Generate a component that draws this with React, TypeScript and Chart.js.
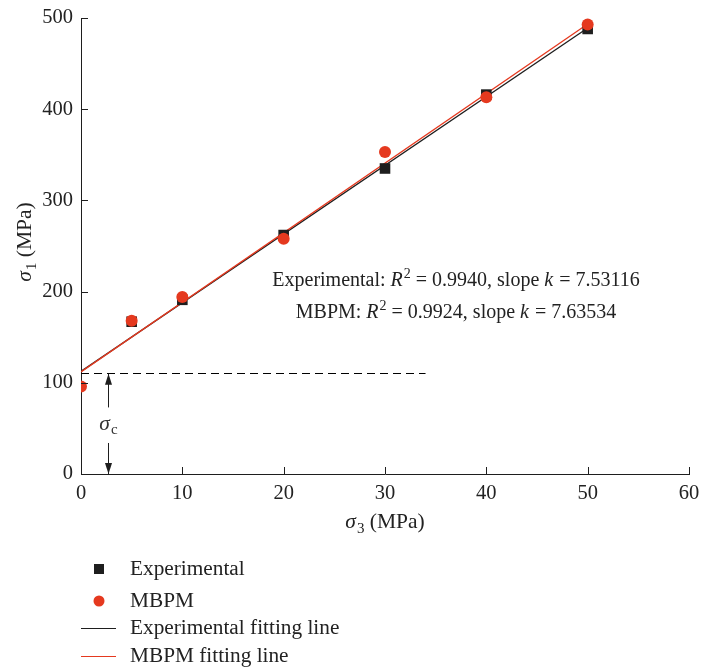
import React, { useEffect, useRef } from "react";
import { Chart, registerables } from "chart.js";
Chart.register(...registerables);

// ---- data ----
const sigma3 = [0, 5, 10, 20, 30, 40, 50];
const experimentalX = [5, 10, 20, 30, 40, 50];
const experimental = [167, 191, 262, 335, 416, 488];
const mbpm = [96, 168, 194, 258, 353, 413, 493];
const expFitX = [0, 50];
const expFitY = [112.5, 489];
const mbpmFitX = [0, 50];
const mbpmFitY = [112, 493.5];
const sigmaCValue = 110.2;
const sigmaCLineX = [0, 34];
const arrowX = 2.7;
const arrowUp = [73, 110];
const arrowDown = [34, 0];
const sigmaCLabelY = 54;
const xTickValues = [0, 10, 20, 30, 40, 50, 60];
const yTickValues = [0, 100, 200, 300, 400, 500];
const legendLabels = ["Experimental", "MBPM", "Experimental fitting line", "MBPM fitting line"];
const annotation1 = [
  { t: "Experimental: ", s: "n" },
  { t: "R", s: "i" },
  { t: "2", s: "sup" },
  { t: " = 0.9940, slope ", s: "n" },
  { t: "k", s: "i" },
  { t: " = 7.53116", s: "n" },
];
const annotation2 = [
  { t: "MBPM: ", s: "n" },
  { t: "R", s: "i" },
  { t: "2", s: "sup" },
  { t: " = 0.9924, slope ", s: "n" },
  { t: "k", s: "i" },
  { t: " = 7.63534", s: "n" },
];
const xTitle = [
  { t: "σ", s: "i" },
  { t: "3", s: "sub" },
  { t: " (MPa)", s: "n" },
];
const yTitle = [
  { t: "σ", s: "i" },
  { t: "1", s: "sub" },
  { t: " (MPa)", s: "n" },
];

const RED = "#e5391f";
const BLACK = "#1e1e1e";
const FONT = '"Liberation Serif", "DejaVu Serif", serif';
const FS = 20;
const FS_TITLE = 21.5;
const FS_LEGEND = 21.3;

type Seg = { t: string; s: string };

function fontFor(s: string, size: number) {
  if (s === "i") return `italic ${size}px ${FONT}`;
  if (s === "sup" || s === "sub") return `${Math.round(size * 0.68)}px ${FONT}`;
  return `${size}px ${FONT}`;
}

function segWidth(ctx: CanvasRenderingContext2D, segs: Seg[], size: number) {
  let w = 0;
  for (const sg of segs) {
    ctx.font = fontFor(sg.s, size);
    w += ctx.measureText(sg.t).width;
    if (sg.s === "i") w += 1;
  }
  return w;
}

function drawSegs(ctx: CanvasRenderingContext2D, segs: Seg[], x: number, y: number, size: number) {
  let cx = x;
  ctx.textBaseline = "alphabetic";
  ctx.textAlign = "left";
  for (const sg of segs) {
    ctx.font = fontFor(sg.s, size);
    let dy = 0;
    if (sg.s === "sup") dy = -size * 0.38;
    if (sg.s === "sub") dy = size * 0.22;
    ctx.fillText(sg.t, cx, y + dy);
    cx += ctx.measureText(sg.t).width;
    if (sg.s === "i") cx += 1;
  }
}

function arrow(ctx: CanvasRenderingContext2D, x: number, y0: number, y1: number) {
  ctx.beginPath();
  ctx.moveTo(x, y0);
  ctx.lineTo(x, y1);
  ctx.stroke();
  const dir = y1 < y0 ? 1 : -1;
  ctx.beginPath();
  ctx.moveTo(x, y1);
  ctx.lineTo(x - 3.5, y1 + dir * 11);
  ctx.lineTo(x + 3.5, y1 + dir * 11);
  ctx.closePath();
  ctx.fill();
}

const decorPlugin = {
  id: "decor",
  afterDraw(chart: any) {
    const ctx: CanvasRenderingContext2D = chart.ctx;
    const xs = chart.scales.x;
    const ys = chart.scales.y;
    const area = chart.chartArea;
    ctx.save();
    ctx.fillStyle = BLACK;
    ctx.strokeStyle = BLACK;
    ctx.lineWidth = 1;
    for (const v of xTickValues) {
      const px = Math.round(xs.getPixelForValue(v)) + 0.5;
      ctx.beginPath();
      ctx.moveTo(px, area.bottom);
      ctx.lineTo(px, area.bottom - 7);
      ctx.stroke();
    }
    for (const v of yTickValues) {
      const py = Math.round(ys.getPixelForValue(v)) + 0.5;
      ctx.beginPath();
      ctx.moveTo(area.left, py);
      ctx.lineTo(area.left + 7, py);
      ctx.stroke();
    }
    const ax = Math.round(xs.getPixelForValue(arrowX)) + 0.5;
    arrow(ctx, ax, ys.getPixelForValue(arrowUp[0]), ys.getPixelForValue(arrowUp[1]));
    arrow(ctx, ax, ys.getPixelForValue(arrowDown[0]), ys.getPixelForValue(arrowDown[1]));
    const lblSegs = [
      { t: "σ", s: "i" },
      { t: "c", s: "sub" },
    ];
    ctx.fillStyle = "#333";
    const lw = segWidth(ctx, lblSegs, FS_TITLE);
    drawSegs(ctx, lblSegs, ax - lw / 2, ys.getPixelForValue(sigmaCLabelY) + 5, FS_TITLE);

    ctx.fillStyle = "#222";
    const cxAnn = 456;
    const w1 = segWidth(ctx, annotation1, FS);
    drawSegs(ctx, annotation1, cxAnn - w1 / 2, 286, FS);
    const w2 = segWidth(ctx, annotation2, FS);
    drawSegs(ctx, annotation2, cxAnn - w2 / 2, 318, FS);

    const xw = segWidth(ctx, xTitle, FS_TITLE);
    drawSegs(ctx, xTitle, (area.left + area.right) / 2 - xw / 2, 528, FS_TITLE);
    ctx.save();
    ctx.translate(31, 242);
    ctx.rotate(-Math.PI / 2);
    const yw = segWidth(ctx, yTitle, FS_TITLE);
    drawSegs(ctx, yTitle, -yw / 2, 0, FS_TITLE);
    ctx.restore();

    // legend
    const ds = chart.data.datasets;
    const rows = [569, 601, 628, 656];
    ctx.fillStyle = BLACK;
    ctx.fillRect(94, rows[0] - 5, 10, 10);
    ctx.fillStyle = RED;
    ctx.beginPath();
    ctx.arc(99, rows[1], 5.5, 0, Math.PI * 2);
    ctx.fill();
    ctx.strokeStyle = BLACK;
    ctx.beginPath();
    ctx.moveTo(81, rows[2] + 0.5);
    ctx.lineTo(116, rows[2] + 0.5);
    ctx.stroke();
    ctx.strokeStyle = RED;
    ctx.beginPath();
    ctx.moveTo(81, rows[3] + 0.5);
    ctx.lineTo(116, rows[3] + 0.5);
    ctx.stroke();
    ctx.fillStyle = "#222";
    ctx.textAlign = "left";
    ctx.textBaseline = "alphabetic";
    ctx.font = `${FS_LEGEND}px ${FONT}`;
    for (let i = 0; i < 4; i++) {
      const lab = ds.find((d: any) => d.legendIndex === i)?.label ?? legendLabels[i];
      ctx.fillText(lab, 130, rows[i] + 6);
    }
    ctx.restore();
  },
};

export default function App() {
  const ref = useRef<HTMLCanvasElement | null>(null);
  useEffect(() => {
    if (!ref.current) return;
    const chart = new Chart(ref.current, {
      type: "scatter",
      data: {
        datasets: [
          {
            label: legendLabels[1],
            legendIndex: 1,
            data: sigma3.map((x, i) => ({ x, y: mbpm[i] })),
            backgroundColor: RED,
            borderColor: RED,
            pointStyle: "circle",
            pointRadius: 6,
            pointBorderWidth: 0,
            clip: 0,
            order: 0,
          } as any,
          {
            label: legendLabels[0],
            legendIndex: 0,
            data: experimentalX.map((x, i) => ({ x, y: experimental[i] })),
            backgroundColor: BLACK,
            borderColor: BLACK,
            pointStyle: "rect",
            pointRadius: 7.5,
            pointBorderWidth: 0,
            clip: 0,
            order: 1,
          } as any,
          {
            type: "line",
            label: legendLabels[3],
            legendIndex: 3,
            data: mbpmFitX.map((x, i) => ({ x, y: mbpmFitY[i] })),
            borderColor: RED,
            borderWidth: 1.3,
            pointRadius: 0,
            order: 2,
          } as any,
          {
            type: "line",
            label: legendLabels[2],
            legendIndex: 2,
            data: expFitX.map((x, i) => ({ x, y: expFitY[i] })),
            borderColor: BLACK,
            borderWidth: 1.3,
            pointRadius: 0,
            order: 3,
          } as any,
          {
            type: "line",
            label: "σc",
            data: sigmaCLineX.map((x) => ({ x, y: sigmaCValue })),
            borderColor: "#000",
            borderWidth: 1.2,
            borderDash: [8, 5],
            pointRadius: 0,
            order: 4,
          } as any,
        ],
      },
      options: {
        animation: false,
        responsive: false,
        events: [],
        layout: { padding: { top: 18, right: 15, left: 0, bottom: 0 } },
        plugins: { legend: { display: false }, tooltip: { enabled: false } },
        scales: {
          x: {
            type: "linear",
            min: 0,
            max: 60,
            afterFit: (s: any) => {
              s.height = 193;
              s.paddingLeft = 0;
              s.paddingRight = 0;
            },
            afterBuildTicks: (s: any) => {
              s.ticks = xTickValues.map((v) => ({ value: v }));
            },
            grid: { display: false, drawTicks: false },
            border: { display: true, color: BLACK, width: 1 },
            ticks: { color: "#222", font: { family: FONT, size: 20.5 }, padding: 7, maxRotation: 0 },
          },
          y: {
            type: "linear",
            min: 0,
            max: 500,
            afterFit: (s: any) => {
              s.width = 81;
              s.paddingTop = 0;
              s.paddingBottom = 0;
            },
            afterBuildTicks: (s: any) => {
              s.ticks = yTickValues.map((v) => ({ value: v }));
            },
            grid: { display: false, drawTicks: false },
            border: { display: true, color: BLACK, width: 1 },
            ticks: { color: "#222", font: { family: FONT, size: 20.5 }, padding: 8 },
          },
        },
      },
      plugins: [decorPlugin],
    } as any);
    return () => chart.destroy();
  }, []);
  return (
    <div style={{ position: "absolute", left: 0, top: 0, width: 704, height: 667, background: "#fff" }}>
      <canvas ref={ref} width={704} height={667} style={{ width: 704, height: 667 }} />
    </div>
  );
}
